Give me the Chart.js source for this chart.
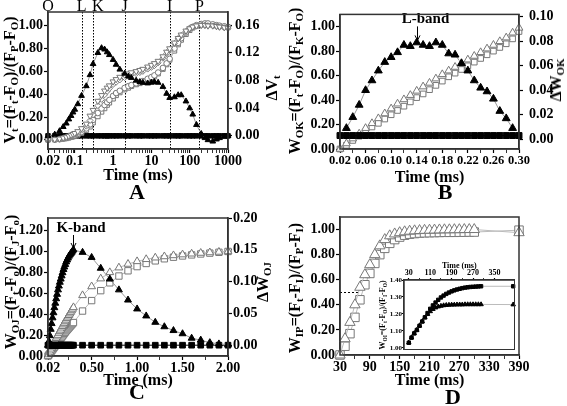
<!DOCTYPE html>
<html>
<head>
<meta charset="utf-8">
<title>Fluorescence transients</title>
<script src="https://cdn.jsdelivr.net/npm/chart.js@4.4.1/dist/chart.umd.min.js"></script>
<style>
  body { margin: 0; background: #fff; }
  #fig { position: relative; width: 567px; height: 406px; overflow: hidden; font-family: 'Liberation Serif', serif; font-weight: bold; color: #000; }
  #fig canvas { position: absolute; }
  .lab { position: absolute; white-space: nowrap; line-height: 1; transform: translate(-50%, -50%); }
  .rot { transform: translate(-50%, -50%) rotate(-90deg); }
  .lab sub { font-size: 68%; vertical-align: -0.3em; line-height: 0; }
</style>
</head>
<body>
<div id="fig">
  <canvas id="chartA" width="283" height="200" style="left:0;top:0"></canvas>
  <canvas id="chartB" width="284" height="200" style="left:283px;top:0"></canvas>
  <canvas id="chartC" width="283" height="206" style="left:0;top:200px"></canvas>
  <canvas id="chartD" width="284" height="206" style="left:283px;top:200px"></canvas>
  <canvas id="chartIn" width="150" height="100" style="left:370px;top:255px"></canvas>

  <div class="lab rot" style="left:10px;top:80px;font-size:16px">V<sub>t</sub>=(F<sub>t</sub>-F<sub>O</sub>)/(F<sub>P</sub>-F<sub>O</sub>)</div>
  <div class="lab rot" style="left:272px;top:88px;font-size:16px">&Delta;V<sub>t</sub></div>
  <div class="lab" style="left:137px;top:192px;font-size:22px">A</div>

  <div class="lab rot" style="left:295px;top:81px;font-size:16px">W<sub>OK</sub>=(F<sub>t</sub>-F<sub>O</sub>)/(F<sub>K</sub>-F<sub>O</sub>)</div>
  <div class="lab rot" style="left:556px;top:80px;font-size:16px">&Delta;W<sub>OK</sub></div>
  <div class="lab" style="left:445px;top:192px;font-size:22px">B</div>

  <div class="lab rot" style="left:11px;top:282px;font-size:16px">W<sub>OJ</sub>=(F<sub>t</sub>-F<sub>o</sub>)/(F<sub>J</sub>-F<sub>o</sub>)</div>
  <div class="lab rot" style="left:263px;top:282px;font-size:16px">&Delta;W<sub>OJ</sub></div>
  <div class="lab" style="left:137px;top:392px;font-size:22px">C</div>

  <div class="lab rot" style="left:295px;top:288px;font-size:16px">W<sub>IP</sub>=(F<sub>t</sub>-F<sub>I</sub>)/(F<sub>P</sub>-F<sub>I</sub>)</div>
  <div class="lab rot" style="left:383px;top:315px;font-size:8px">W<sub>OI</sub>=(F<sub>t</sub>-F<sub>O</sub>)/(F<sub>I</sub>-F<sub>O</sub>)</div>
  <div class="lab" style="left:453px;top:397px;font-size:22px">D</div>
</div>

<script>
const serif = 'Liberation Serif'

// panel A - whole transient, log time
const timesA = [0.02, 0.03, 0.04, 0.05, 0.06, 0.07, 0.08, 0.09, 0.1, 0.12, 0.15, 0.2, 0.25, 0.3, 0.4, 0.5, 0.6, 0.7, 0.8, 1,
  1.2, 1.5, 2, 2.5, 3, 4, 5, 6, 8, 10, 12, 15, 20, 25, 30, 40, 50, 60, 80, 100,
  120, 150, 200, 250, 300, 400, 500, 600, 800, 1000]
const dVtA = [0.000, 0.002, 0.007, 0.013, 0.018, 0.024, 0.029, 0.034, 0.038, 0.046,
  0.058, 0.072, 0.088, 0.104, 0.120, 0.127, 0.125, 0.121, 0.117, 0.110,
  0.103, 0.096, 0.090, 0.086, 0.084, 0.080, 0.078, 0.077, 0.076, 0.077,
  0.078, 0.077, 0.071, 0.061, 0.055, 0.056, 0.059, 0.059, 0.050, 0.040,
  0.031, 0.016, 0.003, -0.003, -0.006, -0.008, -0.005, -0.003, -0.001, 0.000]
const ctrlA = [0, 0, 0, 0, 0, 0, 0, 0, 0, 0, 0, 0, 0, 0, 0, 0, 0, 0, 0, 0, 0, 0, 0, 0, 0,
  0, 0, 0, 0, 0, 0, 0, 0, 0, 0, 0, 0, 0, 0, 0, 0, 0, 0, 0, 0, 0, 0, 0, 0, 0]
const vt1A = [0.000, 0.004, 0.010, 0.018, 0.026, 0.034, 0.042, 0.050, 0.058, 0.074,
  0.100, 0.140, 0.210, 0.260, 0.340, 0.390, 0.430, 0.455, 0.475, 0.510,
  0.530, 0.550, 0.570, 0.580, 0.590, 0.600, 0.610, 0.620, 0.640, 0.655,
  0.670, 0.690, 0.730, 0.770, 0.800, 0.850, 0.890, 0.920, 0.955, 0.975,
  0.990, 1.000, 1.005, 1.005, 1.000, 1.000, 0.995, 0.990, 0.985, 0.980]
const vt2A = [0.000, 0.003, 0.008, 0.014, 0.020, 0.027, 0.034, 0.041, 0.048, 0.062,
  0.085, 0.120, 0.170, 0.220, 0.300, 0.355, 0.395, 0.425, 0.450, 0.485,
  0.505, 0.525, 0.545, 0.560, 0.570, 0.580, 0.590, 0.600, 0.620, 0.635,
  0.650, 0.675, 0.715, 0.755, 0.790, 0.845, 0.885, 0.915, 0.950, 0.972,
  0.988, 0.998, 1.003, 1.004, 1.000, 0.998, 0.993, 0.988, 0.983, 0.978]
const vt3A = [0.000, 0.002, 0.006, 0.011, 0.016, 0.022, 0.028, 0.034, 0.040, 0.052,
  0.070, 0.100, 0.135, 0.175, 0.235, 0.275, 0.305, 0.330, 0.350, 0.385,
  0.410, 0.430, 0.455, 0.470, 0.480, 0.495, 0.505, 0.515, 0.535, 0.550,
  0.565, 0.590, 0.630, 0.670, 0.710, 0.800, 0.850, 0.890, 0.940, 0.975,
  0.990, 1.005, 1.015, 1.020, 1.020, 1.012, 1.005, 1.000, 0.995, 0.990]
const vt4A = [0.000, 0.002, 0.005, 0.009, 0.013, 0.018, 0.023, 0.028, 0.033, 0.044,
  0.060, 0.085, 0.115, 0.150, 0.205, 0.245, 0.275, 0.305, 0.325, 0.360,
  0.390, 0.415, 0.440, 0.455, 0.470, 0.485, 0.495, 0.505, 0.525, 0.540,
  0.555, 0.580, 0.620, 0.660, 0.700, 0.780, 0.835, 0.875, 0.925, 0.960,
  0.982, 0.997, 1.008, 1.012, 1.012, 1.006, 1.000, 0.995, 0.990, 0.985]
const stepTimes = [0.02, 0.15, 0.3, 2, 30, 180]
const stepNames = ['O', 'L', 'K', 'J', 'I', 'P']
const ticksAx = [0.02, 0.1, 1, 10, 100, 1000]
const labelsAx = ['0.02', '0.1', '1', '10', '100', '1000']

// panel B - O to K
const timesB = [0.02, 0.03, 0.04, 0.05, 0.06, 0.07, 0.08, 0.09, 0.10, 0.11, 0.12, 0.13, 0.14, 0.15,
  0.16, 0.17, 0.18, 0.19, 0.20, 0.21, 0.22, 0.23, 0.24, 0.25, 0.26, 0.27, 0.28, 0.29, 0.30]
const dWokB = [null, 0.009, 0.018, 0.028, 0.040, 0.048, 0.056, 0.063, 0.067, 0.071, 0.077, 0.076, 0.079, 0.077,
  0.076, 0.079, 0.077, 0.070, 0.069, 0.062, 0.056, 0.048, 0.042, 0.039, 0.033, 0.023, 0.017, 0.009, null]
const ctrlB = [0.003, 0.003, 0.003, 0.003, 0.003, 0.003, 0.003, 0.003, 0.003, 0.003, 0.003, 0.003, 0.003, 0.003,
  0.003, 0.003, 0.003, 0.003, 0.003, 0.003, 0.003, 0.003, 0.003, 0.003, 0.003, 0.003, 0.003, 0.003, 0.003]
const wokTriB = [0.00, 0.045, 0.085, 0.125, 0.17, 0.21, 0.25, 0.29, 0.33, 0.37, 0.405, 0.44, 0.475, 0.51,
  0.54, 0.575, 0.61, 0.64, 0.67, 0.70, 0.73, 0.76, 0.79, 0.82, 0.85, 0.88, 0.91, 0.95, 0.99]
const wokSqB = [0.00, 0.03, 0.07, 0.105, 0.14, 0.18, 0.21, 0.245, 0.28, 0.315, 0.35, 0.385, 0.42, 0.45,
  0.485, 0.52, 0.555, 0.59, 0.62, 0.65, 0.68, 0.71, 0.74, 0.77, 0.80, 0.83, 0.86, 0.90, 0.96]
const ticksBx = [0.02, 0.06, 0.10, 0.14, 0.18, 0.22, 0.26, 0.30]
const lBandTime = 0.14

// panel C - O to J
const timesC = [0.02, 0.03, 0.04, 0.05, 0.06, 0.07, 0.08, 0.09, 0.10, 0.11, 0.12, 0.13, 0.14, 0.15,
  0.16, 0.17, 0.18, 0.19, 0.20, 0.21, 0.22, 0.23, 0.24, 0.25, 0.26, 0.27, 0.28, 0.29, 0.30,
  0.4, 0.5, 0.6, 0.7, 0.8, 0.9, 1.0, 1.1, 1.2, 1.3, 1.4, 1.5, 1.6, 1.7, 1.8, 1.9, 2.0]
const dWojC = [0.000, 0.006, 0.015, 0.025, 0.034, 0.043, 0.051, 0.059, 0.066, 0.073, 0.080, 0.087, 0.093, 0.099,
  0.104, 0.109, 0.114, 0.119, 0.123, 0.127, 0.131, 0.134, 0.137, 0.140, 0.142, 0.144, 0.146, 0.148, 0.150,
  0.146, 0.138, 0.121, 0.104, 0.087, 0.071, 0.057, 0.046, 0.036, 0.029, 0.023, 0.018, 0.011, 0.008, 0.004, 0.002, 0.001]
const ctrlC = [0, 0, 0, 0, 0, 0, 0, 0, 0, 0, 0, 0, 0, 0, 0, 0, 0, 0, 0, 0, 0, 0, 0,
  0, 0, 0, 0, 0, 0, 0, 0, 0, 0, 0, 0, 0, 0, 0, 0, 0, 0, 0, 0, 0, 0, 0]
const wojTriC = [0.00, 0.02, 0.04, 0.06, 0.08, 0.10, 0.12, 0.135, 0.15, 0.17, 0.185, 0.20, 0.22, 0.235,
  0.25, 0.27, 0.285, 0.30, 0.315, 0.33, 0.345, 0.36, 0.375, 0.39, 0.405, 0.42, 0.435, 0.45, 0.465,
  0.58, 0.665, 0.74, 0.80, 0.845, 0.88, 0.905, 0.925, 0.94, 0.952, 0.962, 0.97, 0.978, 0.985, 0.99, 0.995, 1.0]
const wojSqC = [0.00, 0.012, 0.024, 0.036, 0.048, 0.06, 0.072, 0.084, 0.096, 0.108, 0.12, 0.132, 0.144, 0.156,
  0.168, 0.18, 0.192, 0.204, 0.216, 0.228, 0.24, 0.25, 0.26, 0.27, 0.28, 0.29, 0.30, 0.31, 0.32,
  0.43, 0.53, 0.625, 0.70, 0.765, 0.815, 0.855, 0.885, 0.91, 0.93, 0.945, 0.957, 0.967, 0.976, 0.984, 0.992, 1.0]
const ticksCx = [0.02, 0.5, 1, 1.5, 2]
const labelsCx = ['0.02', '0.50', '1.00', '1.50', '2.00']
const kBandTime = 0.3

// panel D - I to P, and inset O to I
const timesD = [30, 40, 50, 60, 70, 80, 90, 100, 110, 120, 130, 140, 150, 160, 170, 180, 190, 200,
  210, 220, 230, 240, 250, 260, 270, 280, 290, 300, 390]
const wipTriD = [0, 0.13, 0.26, 0.40, 0.54, 0.64, 0.72, 0.80, 0.87, 0.92, 0.95, 0.965, 0.975, 0.982, 0.987,
  0.99, 0.992, 0.994, 0.995, 0.996, 0.997, 0.998, 0.998, 0.999, 0.999, 1.0, 1.0, 1.0, 0.975]
const wipSqD = [0, 0.07, 0.17, 0.30, 0.44, 0.56, 0.65, 0.73, 0.80, 0.85, 0.89, 0.92, 0.94, 0.955, 0.963,
  0.968, 0.972, 0.974, 0.975, 0.976, 0.977, 0.978, 0.978, 0.978, 0.979, 0.979, 0.98, 0.98, 0.995]
const ticksDx = [30, 90, 150, 210, 270, 330, 390]
const halfLevel = 0.5
const halfTimeD = 67

const timesIn = [30, 40, 50, 60, 70, 80, 90, 100, 110, 120, 130, 140, 150, 160, 170, 180, 190, 200,
  210, 220, 230, 240, 250, 260, 270, 280, 290, 300, 420]
const woiSqIn = [1.03, 1.06, 1.085, 1.105, 1.13, 1.155, 1.18, 1.205, 1.23, 1.25, 1.267, 1.283, 1.297, 1.308,
  1.318, 1.326, 1.333, 1.339, 1.344, 1.348, 1.352, 1.355, 1.357, 1.359, 1.36, 1.361, 1.362, 1.363, 1.363]
const woiTriIn = [1.03, 1.06, 1.085, 1.105, 1.13, 1.155, 1.178, 1.198, 1.215, 1.228, 1.237, 1.243, 1.247, 1.25,
  1.252, 1.253, 1.254, 1.254, 1.255, 1.255, 1.255, 1.256, 1.256, 1.256, 1.256, 1.256, 1.256, 1.256, 1.255]
const ticksInx = [30, 110, 190, 270, 350]

// helpers
function pts(xs, ys) {
  return xs.map((x, i) => ({ x: x, y: ys[i] }))
}

function series(xs, ys, axis, style) {
  return Object.assign({ data: pts(xs, ys), yAxisID: axis, clip: false, borderWidth: 1, tension: 0, pointBorderWidth: 1 }, style)
}

function filled(shape, r, line) {
  return { pointStyle: shape, pointRadius: r, pointBackgroundColor: '#000', pointBorderColor: '#000', borderColor: line || '#999' }
}

function hollow(shape, r, rot) {
  return { pointStyle: shape, pointRadius: r, pointRotation: rot || 0, pointBackgroundColor: '#fff', pointBorderColor: '#777', borderColor: '#bbb' }
}

function scale(o) {
  const major = o.major
  const vals = major.concat(o.minor || []).sort((a, b) => a - b)
  const horiz = o.position === 'bottom' || o.position === 'top'
  return {
    type: o.type || 'linear',
    position: o.position,
    min: o.min,
    max: o.max,
    afterBuildTicks: s => { s.ticks = vals.map(v => ({ value: v })) },
    afterFit: s => { if (horiz) s.height = o.size; else s.width = o.size },
    ticks: {
      autoSkip: false, maxRotation: 0, minRotation: 0, color: '#000',
      padding: o.pad || 0,
      font: { family: serif, weight: 'bold', size: o.font || 14 },
      callback: v => {
        const i = major.indexOf(v)
        if (i < 0) return ''
        return o.labels ? o.labels[i] : v.toFixed(o.digits === undefined ? 2 : o.digits)
      }
    },
    grid: {
      drawOnChartArea: false, tickLength: o.tick || 4, color: '#000', tickColor: '#000',
      tickWidth: c => (c.tick && major.includes(c.tick.value)) ? 1.2 : 0.8
    },
    border: { color: '#333', width: 1.5 },
    title: o.title ? {
      display: true, text: o.title, color: '#000',
      font: { family: serif, weight: 'bold', size: o.titleSize || 16 },
      padding: o.titlePad
    } : { display: false }
  }
}

function base(pad, scales, extra) {
  return Object.assign({
    responsive: false, animation: false, devicePixelRatio: 1, events: [],
    layout: { padding: pad },
    plugins: { legend: { display: false }, tooltip: { enabled: false } },
    scales: scales
  }, extra || {})
}

function mids(list) {
  const out = []
  for (let i = 0; i < list.length - 1; i++) out.push(+((list[i] + list[i + 1]) / 2).toFixed(4))
  return out
}

Chart.register({
  id: 'frame',
  afterDraw(chart, args, opts) {
    const { ctx, chartArea: a } = chart
    ctx.save()
    ctx.strokeStyle = '#333'
    ctx.lineWidth = opts.width || 1.5
    ctx.strokeRect(a.left, a.top, a.right - a.left, a.bottom - a.top)
    ctx.restore()
  }
})

function bandMarker(text, time, dx, textDy, top, bottom) {
  return {
    id: 'band',
    afterDatasetsDraw(chart) {
      const { ctx, chartArea: a, scales: { x } } = chart
      const px = Math.round(x.getPixelForValue(time)) + 0.5
      ctx.save()
      ctx.strokeStyle = '#000'
      ctx.lineWidth = 1
      ctx.beginPath()
      ctx.moveTo(px, a.top + top)
      ctx.lineTo(px, a.top + bottom)
      ctx.stroke()
      ctx.beginPath()
      ctx.moveTo(px - 2.5, a.top + bottom - 5)
      ctx.lineTo(px, a.top + bottom)
      ctx.lineTo(px + 2.5, a.top + bottom - 5)
      ctx.stroke()
      ctx.fillStyle = '#000'
      ctx.font = 'bold 15px "' + serif + '"'
      ctx.textAlign = 'center'
      ctx.textBaseline = 'middle'
      ctx.fillText(text, px + dx, a.top + textDy)
      ctx.restore()
    }
  }
}

// log axis minor ticks
const minorAx = []
;[0.01, 0.1, 1, 10, 100].forEach(d => {
  for (let k = 2; k <= 9; k++) {
    const v = +(k * d).toPrecision(3)
    if (v > 0.02 && v < 1000) minorAx.push(v)
  }
})

const stepLines = {
  id: 'steps',
  beforeDatasetsDraw(chart) {
    const { ctx, chartArea: a, scales: { x } } = chart
    ctx.save()
    ctx.strokeStyle = '#000'
    ctx.lineWidth = 1
    ctx.setLineDash([1.5, 1.5])
    stepTimes.forEach((t, i) => {
      if (i === 0) return
      const px = Math.round(x.getPixelForValue(t)) + 0.5
      ctx.beginPath()
      ctx.moveTo(px, a.top)
      ctx.lineTo(px, a.bottom)
      ctx.stroke()
    })
    ctx.restore()
  },
  afterDraw(chart) {
    const { ctx, scales: { x } } = chart
    ctx.save()
    ctx.fillStyle = '#000'
    ctx.font = '16px "' + serif + '"'
    ctx.textBaseline = 'middle'
    stepTimes.forEach((t, i) => {
      const px = x.getPixelForValue(t)
      const isK = stepNames[i] === 'K'
      ctx.textAlign = isK ? 'left' : 'center'
      ctx.fillText(stepNames[i], isK ? px - 1 : px, 7)
    })
    ctx.restore()
  }
}

// A
new Chart(document.getElementById('chartA'), {
  type: 'line',
  data: {
    datasets: [
      series(timesA, dVtA, 'y1', filled('triangle', 3.3)),
      series(timesA, vt1A, 'y', hollow('triangle', 3.5, 180)),
      series(timesA, vt2A, 'y', hollow('rectRot', 3)),
      series(timesA, vt3A, 'y', hollow('circle', 2.8)),
      series(timesA, vt4A, 'y', hollow('rect', 3.2)),
      series(timesA, ctrlA, 'y1', filled('rect', 3.2, '#000'))
    ]
  },
  options: base({ top: 12, left: 0, right: 0, bottom: 0 }, {
    x: scale({ type: 'logarithmic', position: 'bottom', min: 0.02, max: 1000, major: ticksAx, labels: labelsAx, minor: minorAx,
      size: 51, title: 'Time (ms)', titlePad: { top: 0, bottom: 15 } }),
    y: scale({ position: 'left', min: -0.08, max: 1.12, major: [0, 0.2, 0.4, 0.6, 0.8, 1.0], size: 48, pad: 1 }),
    y1: scale({ position: 'right', min: -0.019, max: 0.179, major: [0, 0.04, 0.08, 0.12, 0.16], size: 55, pad: 3 })
  }),
  plugins: [stepLines]
})

// B
new Chart(document.getElementById('chartB'), {
  type: 'line',
  data: {
    datasets: [
      series(timesB, dWokB, 'y1', filled('triangle', 4.5)),
      series(timesB, ctrlB, 'y1', filled('rect', 4.2, '#000')),
      series(timesB, wokTriB, 'y', hollow('triangle', 4.5)),
      series(timesB, wokSqB, 'y', hollow('rect', 4))
    ]
  },
  options: base({ top: 13, left: 0, right: 0, bottom: 0 }, {
    x: scale({ position: 'bottom', min: 0.02, max: 0.30, major: ticksBx, minor: mids(ticksBx), font: 12.5,
      size: 51, title: 'Time (ms)', titlePad: { top: 0, bottom: 13 } }),
    y: scale({ position: 'left', min: 0, max: 1.1, major: [0, 0.2, 0.4, 0.6, 0.8, 1.0], size: 57, pad: 1 }),
    y1: scale({ position: 'right', min: -0.008, max: 0.102, major: [0, 0.02, 0.04, 0.06, 0.08, 0.10], size: 48, pad: 6 })
  }),
  plugins: [bandMarker('L-band', lBandTime, 8, 5, 12, 26)]
})

// C
new Chart(document.getElementById('chartC'), {
  type: 'line',
  data: {
    datasets: [
      series(timesC, dWojC, 'y1', filled('triangle', 4)),
      series(timesC, ctrlC, 'y1', filled('rect', 4, '#000')),
      series(timesC, wojTriC, 'y', hollow('triangle', 4.5)),
      series(timesC, wojSqC, 'y', hollow('rect', 4.5))
    ]
  },
  options: base({ top: 18, left: 0, right: 0, bottom: 0 }, {
    x: scale({ position: 'bottom', min: 0.02, max: 2.0, major: ticksCx, labels: labelsCx, minor: [0.25, 0.75, 1.25, 1.75],
      size: 50, title: 'Time (ms)', titlePad: { top: 0, bottom: 16 } }),
    y: scale({ position: 'left', min: 0, max: 1.32, major: [0, 0.2, 0.4, 0.6, 0.8, 1.0, 1.2], size: 48, pad: 1 }),
    y1: scale({ position: 'right', min: -0.017, max: 0.20, major: [0, 0.05, 0.10, 0.15, 0.20], size: 55, pad: 1 })
  }),
  plugins: [bandMarker('K-band', kBandTime, 7.5, 10, 17, 30)]
})

// D
new Chart(document.getElementById('chartD'), {
  type: 'line',
  data: {
    datasets: [
      series(timesD, wipTriD, 'y', hollow('triangle', 6)),
      series(timesD, wipSqD, 'y', hollow('rect', 6))
    ]
  },
  options: base({ top: 17, left: 0, right: 48, bottom: 0 }, {
    x: scale({ position: 'bottom', min: 30, max: 390, major: ticksDx, minor: mids(ticksDx), digits: 0,
      size: 51, title: 'Time (ms)', titlePad: { top: 0, bottom: 16 } }),
    y: scale({ position: 'left', min: 0, max: 1.1, major: [0, 0.2, 0.4, 0.6, 0.8, 1.0], size: 57, pad: 1 })
  }),
  plugins: [{
    id: 'half',
    beforeDatasetsDraw(chart) {
      const { ctx, scales: { x, y } } = chart
      const py = Math.round(y.getPixelForValue(halfLevel)) + 0.5
      ctx.save()
      ctx.setLineDash([2, 2])
      ctx.strokeStyle = '#000'
      ctx.lineWidth = 1
      ctx.beginPath()
      ctx.moveTo(x.getPixelForValue(timesD[0]), py)
      ctx.lineTo(x.getPixelForValue(halfTimeD), py)
      ctx.stroke()
      ctx.restore()
    }
  }]
})

// D inset
new Chart(document.getElementById('chartIn'), {
  type: 'line',
  data: {
    datasets: [
      series(timesIn, woiSqIn, 'y', filled('rect', 2.4, '#bbb')),
      series(timesIn, woiTriIn, 'y', filled('triangle', 2.6, '#bbb'))
    ]
  },
  options: base({ top: 0, left: 0, right: 5.5, bottom: 5.5 }, {
    x: scale({ position: 'top', min: 12, max: 425, major: ticksInx, minor: mids(ticksInx), digits: 0, font: 8, tick: 2,
      size: 25, title: 'Time (ms)', titleSize: 8, titlePad: { top: 6, bottom: 0 } }),
    y: scale({ position: 'left', min: 0.99, max: 1.40, major: [1.0, 1.1, 1.2, 1.3, 1.4], font: 7, tick: 2, size: 34, pad: 0 })
  }, { plugins: { legend: { display: false }, tooltip: { enabled: false }, frame: { width: 1 } } })
})
</script>
</body>
</html>
